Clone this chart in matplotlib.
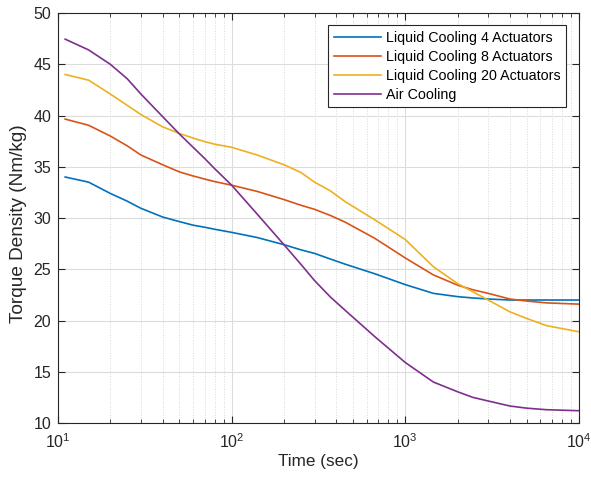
import matplotlib.pyplot as plt
from matplotlib.ticker import LogLocator

plt.rcParams['font.family'] = ['Liberation Sans', 'DejaVu Sans']
plt.rcParams['mathtext.fontset'] = 'custom'
plt.rcParams['mathtext.rm'] = 'Liberation Sans'

# values
time_sec = [11, 15, 20, 25, 30, 40, 50, 60, 70, 80, 100, 140, 200, 250, 300, 370, 450, 670,
            1000, 1450, 2000, 2450, 3000, 4000, 5000, 6500, 10000]
liquid_4 = [34.0, 33.5, 32.4, 31.65, 30.95, 30.1, 29.65, 29.3, 29.1, 28.9, 28.6, 28.1,
            27.4, 26.9, 26.55, 26.0, 25.5, 24.55, 23.5, 22.65, 22.33, 22.2, 22.1,
            22.0, 22.0, 22.0, 22.0]
liquid_8 = [39.65, 39.05, 38.0, 37.05, 36.15, 35.2, 34.5, 34.1, 33.8, 33.55, 33.2, 32.6,
            31.8, 31.25, 30.85, 30.25, 29.6, 28.0, 26.1, 24.45, 23.45, 23.0, 22.65,
            22.1, 21.9, 21.72, 21.6]
liquid_20 = [44.0, 43.45, 42.1, 41.0, 40.1, 38.9, 38.25, 37.8, 37.45, 37.2, 36.9, 36.15,
             35.2, 34.45, 33.5, 32.65, 31.6, 29.8, 27.9, 25.25, 23.6, 22.8, 22.0,
             20.85, 20.2, 19.5, 18.9]
air = [47.45, 46.4, 45.0, 43.6, 42.1, 39.9, 38.2, 36.9, 35.8, 34.8, 33.2, 30.4,
       27.4, 25.5, 23.9, 22.3, 21.0, 18.4, 15.9, 14.0, 13.05, 12.5, 12.15,
       11.66, 11.45, 11.3, 11.2]

series = [
    ('Liquid Cooling 4 Actuators', liquid_4, '#0072BD'),
    ('Liquid Cooling 8 Actuators', liquid_8, '#D95319'),
    ('Liquid Cooling 20 Actuators', liquid_20, '#EDB120'),
    ('Air Cooling', air, '#7E2F8E'),
]

fig = plt.figure(figsize=(5.91, 4.78), dpi=100)
ax = fig.add_axes([0.0981, 0.115, 0.8816, 0.8578])

for label, vals, color in series:
    ax.plot(time_sec, vals, color=color, linewidth=1.2, label=label)

ax.set_xscale('log')
ax.set_xlim(10, 1e4)
ax.set_ylim(10, 50)
ax.set_yticks(range(10, 51, 5))
ax.xaxis.set_minor_locator(LogLocator(base=10, subs=range(2, 10)))

ax.grid(True, which='major', color='#dcdcdc', linewidth=0.8)
ax.grid(True, which='minor', axis='x', color='#d8d8d8', linestyle=':', linewidth=0.7)
ax.set_axisbelow(True)

for sp in ax.spines.values():
    sp.set_color('#262626')
    sp.set_linewidth(0.8)
ax.tick_params(which='both', direction='in', top=True, right=True, colors='#262626',
               labelsize=11.5)
ax.tick_params(which='major', length=5)
ax.tick_params(which='minor', length=3)
ax.tick_params(axis='x', which='major', pad=7)
ax.tick_params(axis='y', which='major', pad=5)

ax.set_xlabel('Time (sec)', fontsize=12.3, color='#262626', labelpad=2)
ax.set_ylabel('Torque Density (Nm/kg)', fontsize=13.7, color='#262626')
ax.yaxis.set_label_coords(-0.059, 0.487)

leg = ax.legend(loc='upper right', bbox_to_anchor=(0.976, 0.971), borderaxespad=0,
                fontsize=10.3, fancybox=False, framealpha=1, edgecolor='#262626',
                handlelength=3.3, handletextpad=0.35, labelspacing=0.35,
                borderpad=0.4)
leg.get_frame().set_linewidth(0.8)

fig.savefig('out.png', dpi=100)
